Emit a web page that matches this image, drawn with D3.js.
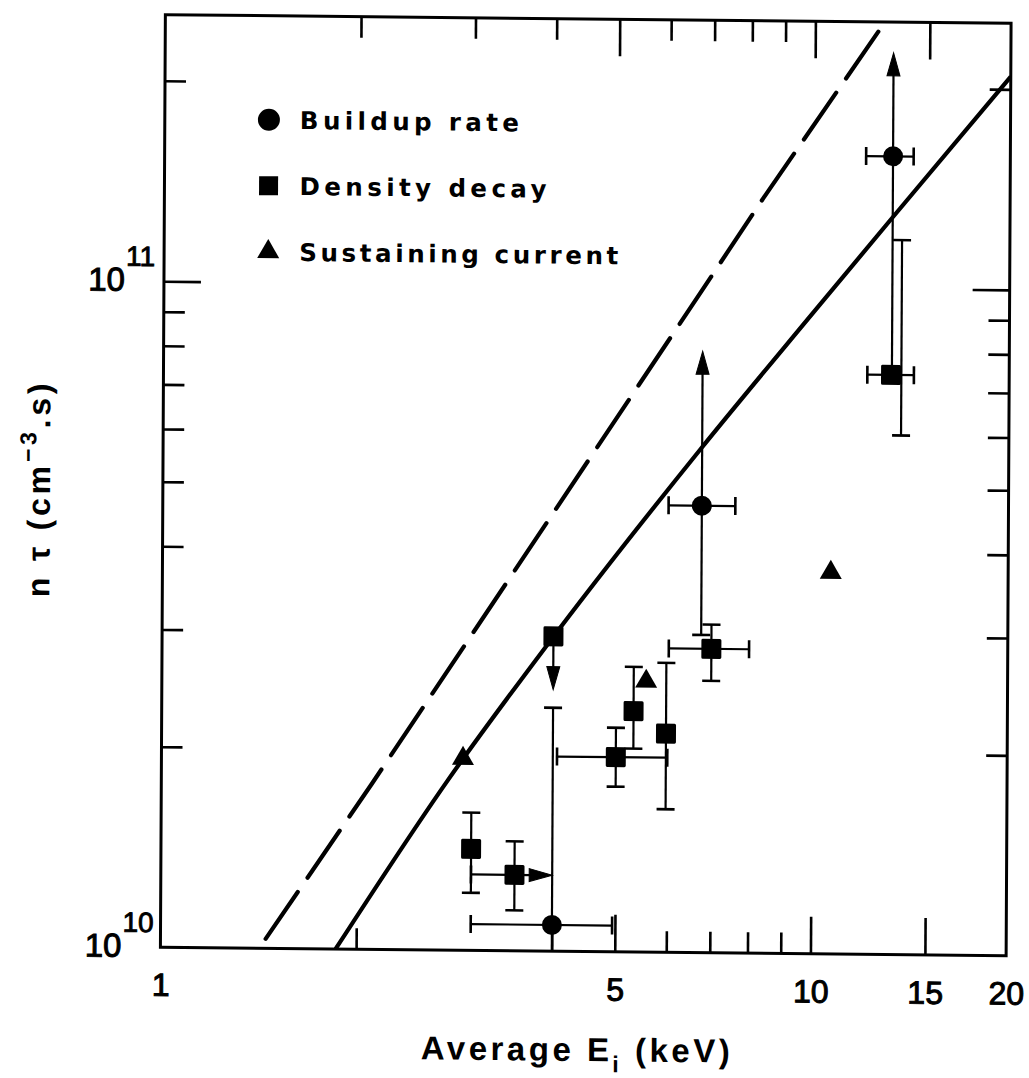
<!DOCTYPE html>
<html>
<head>
<meta charset="utf-8">
<script src="https://cdn.jsdelivr.net/npm/d3@7"></script>
<style>
  html, body { margin: 0; padding: 0; background: #fff; }
  svg { display: block; }
  text { font-family: "Liberation Sans", Arial, Helvetica, sans-serif; fill: #000; }
</style>
</head>
<body>
<svg id="chart" width="1029" height="1078"></svg>
<script>
// n·tau versus average ion energy, log–log, three measurement methods.

// Axis domains and ticks
const xDomain = [1, 20];                  // keV
const yDomain = [1e10, 2.513e11];         // cm^-3 s
const xLabelTicks = [1, 5, 10, 15, 20];
const xMajorTicks = [5, 10, 15];
const xMinorTicksBottom = [2, 4, 6, 7, 8, 9];
const xMinorTicksTop = [2, 3, 4, 6, 7, 8, 9];
const yMajorTicks = [1e11];
const yMinorTicks = [2e10, 3e10, 4e10, 5e10, 6e10, 7e10, 8e10, 9e10, 2e11];
const yLabelExponents = [10, 11];

// Buildup rate (circles); ntUp = lower limit drawn as an upward arrow
const buildupRate = [
  { E: 4.0,  nt: 1.095e10, eLo: 3.0,  eHi: 4.95, ntLo: 0.9e10,  ntHi: 2.32e10 },
  { E: 6.75, nt: 4.69e10,  eLo: 6.0,  eHi: 7.6,  ntLo: 3.0e10,  ntUp: 8.0e10 },
  { E: 13.2, nt: 1.58e11,  eLo: 12.0, eHi: 14.2, ntLo: 7.42e10, ntUp: 2.26e11 }
];

// Density decay (squares); ntDown / eRight = limits drawn as arrows
const densityDecay = [
  { E: 4.0,   nt: 2.97e10, ntDown: 2.47e10 },
  { E: 3.0,   nt: 1.42e10, ntLo: 1.22e10, ntHi: 1.61e10 },
  { E: 3.5,   nt: 1.30e10, ntLo: 1.15e10, ntHi: 1.46e10, eLo: 3.0, eRight: 4.0 },
  { E: 5.0,   nt: 1.96e10, ntLo: 1.77e10, ntHi: 2.17e10, eLo: 4.06, eHi: 6.0 },
  { E: 5.32,  nt: 2.30e10, ntLo: 2.02e10, ntHi: 2.68e10 },
  { E: 5.97,  nt: 2.13e10, ntLo: 1.64e10, ntHi: 2.72e10 },
  { E: 7.0,   nt: 2.86e10, ntLo: 2.56e10, ntHi: 3.11e10, eLo: 6.02, eHi: 8.0 },
  { E: 13.16, nt: 7.42e10, ntLo: 6.02e10, ntHi: 1.183e11, eLo: 12.1, eHi: 14.27, barE: 13.65 }
];

// Sustaining current (triangles)
const sustainingCurrent = [
  { E: 2.91,  nt: 1.94e10 },
  { E: 5.56,  nt: 2.55e10 },
  { E: 10.67, nt: 3.74e10 }
];

// Reference curves [E, n·tau]
const solidCurve = [
  [1.86, 1.0e10], [2.76, 1.80e10], [3.9, 2.87e10], [6.7, 5.69e10],
  [10, 9.2e10], [13.2, 1.28e11], [20, 2.09e11]
];
const dashedCurve = [
  [12.5, 2.43e11], [8.34, 1.36e11], [6.68, 9.77e10], [3.25, 3.36e10],
  [2.107, 1.771e10], [1.419, 1.0e10]
];

const legendItems = ["Buildup rate", "Density decay", "Sustaining current"];

// ---------------------------------------------------------------------------
const svg = d3.select("#chart");
const plot = { left: 162.9, right: 1008.6, top: 19, bottom: 951.5 };

const x = d3.scaleLog().domain(xDomain).range([plot.left, plot.right]);
const y = d3.scaleLog().domain(yDomain).range([plot.bottom, plot.top]);

// the whole figure sits slightly skewed on the page
const g = svg.append("g").attr("transform", "matrix(1,0.0102,-0.0053,1,2.57,-5.98)");

g.append("clipPath").attr("id", "plot-clip")
  .append("rect")
  .attr("x", plot.left).attr("y", plot.top)
  .attr("width", plot.right - plot.left).attr("height", plot.bottom - plot.top);

// ---- frame and ticks
g.append("rect")
  .attr("x", plot.left).attr("y", plot.top)
  .attr("width", plot.right - plot.left).attr("height", plot.bottom - plot.top)
  .attr("fill", "none").attr("stroke", "#000").attr("stroke-width", 3);

const MINOR = 21, MAJOR = 37;
function styleTicks(sel) {
  sel.select(".domain").remove();
  sel.selectAll(".tick line").attr("stroke", "#000").attr("stroke-width", 2.6);
}
const tickAxes = [
  [d3.axisTop(x).tickValues(xMinorTicksBottom).tickSize(MINOR), `translate(0,${plot.bottom})`],
  [d3.axisTop(x).tickValues(xMajorTicks).tickSize(MAJOR), `translate(0,${plot.bottom})`],
  [d3.axisBottom(x).tickValues(xMinorTicksTop).tickSize(MINOR), `translate(0,${plot.top})`],
  [d3.axisBottom(x).tickValues(xMajorTicks).tickSize(MAJOR), `translate(0,${plot.top})`],
  [d3.axisRight(y).tickValues(yMinorTicks).tickSize(MINOR), `translate(${plot.left},0)`],
  [d3.axisRight(y).tickValues(yMajorTicks).tickSize(MAJOR), `translate(${plot.left},0)`],
  [d3.axisLeft(y).tickValues(yMinorTicks).tickSize(MINOR), `translate(${plot.right},0)`],
  [d3.axisLeft(y).tickValues(yMajorTicks).tickSize(MAJOR), `translate(${plot.right},0)`]
];
tickAxes.forEach(([axis, tr]) => {
  g.append("g").attr("transform", tr)
    .call(axis.tickFormat("").tickSizeOuter(0))
    .call(styleTicks);
});

// x tick labels
g.append("g").attr("transform", `translate(0,${plot.bottom})`)
  .call(d3.axisBottom(x).tickValues(xLabelTicks).tickSize(0).tickPadding(26)
    .tickFormat(d3.format("d")))
  .call(sel => {
    sel.select(".domain").remove();
    sel.selectAll("text")
      .attr("font-size", 32).attr("fill", "#000")
      .attr("stroke", "#000").attr("stroke-width", 1);
  });

// y tick labels: 10 with superscript exponent
yLabelExponents.forEach(p => {
  const yy = y(Math.pow(10, p));
  g.append("text")
    .attr("x", plot.left - 39).attr("y", yy + 10)
    .attr("font-size", 33).attr("text-anchor", "end")
    .attr("stroke", "#000").attr("stroke-width", 1)
    .text("10");
  g.append("text")
    .attr("x", plot.left - 38).attr("y", yy - 15)
    .attr("font-size", 28).attr("text-anchor", "start")
    .attr("stroke", "#000").attr("stroke-width", 0.9)
    .text(p);
});

// axis titles
const xt = g.append("text")
  .attr("x", 580).attr("y", 1061)
  .attr("text-anchor", "middle")
  .attr("font-size", 33).attr("font-weight", "bold")
  .attr("letter-spacing", 3.5);
xt.append("tspan").text("Average E");
xt.append("tspan").attr("font-size", 23).attr("dy", 11).text("i");
xt.append("tspan").attr("dy", -11).text(" (keV)");

const yt = g.append("text")
  .attr("transform", "translate(50,494) rotate(-90)")
  .attr("text-anchor", "middle")
  .attr("font-size", 32).attr("font-weight", "bold")
  .attr("letter-spacing", 3.8);
yt.append("tspan").text("n \u03C4 (cm");
yt.append("tspan").attr("font-size", 23).attr("dy", -14).text("\u22123");
yt.append("tspan").attr("dy", 14).text(".s)");

// ---- reference curves
const clipped = g.append("g").attr("clip-path", "url(#plot-clip)");

clipped.append("path")
  .datum(solidCurve)
  .attr("d", d3.line().x(d => x(d[0])).y(d => y(d[1])).curve(d3.curveMonotoneX))
  .attr("fill", "none").attr("stroke", "#000").attr("stroke-width", 4.2);

clipped.append("path")
  .datum(dashedCurve)
  .attr("d", d3.line().x(d => x(d[0])).y(d => y(d[1])))
  .attr("fill", "none").attr("stroke", "#000").attr("stroke-width", 4.2)
  .attr("stroke-dasharray", "57,17.3").attr("stroke-linecap", "round");

// ---- error bars and limit arrows
const bars = clipped.append("g").attr("stroke", "#000").attr("fill", "#000");
const CAP = 9, HEAD_L = 23, HEAD_W = 6.5;

function seg(x1, y1, x2, y2, w) {
  bars.append("line").attr("x1", x1).attr("y1", y1).attr("x2", x2).attr("y2", y2)
    .attr("stroke-width", w);
}
function head(tx, ty, dx, dy) {
  // arrowhead with its tip at (tx,ty) pointing along (dx,dy)
  const bx = tx - dx * HEAD_L, by = ty - dy * HEAD_L;
  const px = -dy * HEAD_W, py = dx * HEAD_W;
  bars.append("path")
    .attr("d", `M${tx},${ty}L${bx + px},${by + py}L${bx - px},${by - py}Z`)
    .attr("stroke-width", 1);
}

function drawBars(d) {
  const cx = x(d.E), cy = y(d.nt);
  const bx = x(d.barE || d.E);
  if (d.ntLo !== undefined || d.ntHi !== undefined) {
    const lo = d.ntLo !== undefined ? d.ntLo : d.nt;
    const hi = d.ntHi !== undefined ? d.ntHi : d.nt;
    if (d.ntUp === undefined) seg(bx, y(lo), bx, y(hi), 2.2);
    if (d.ntLo !== undefined) seg(bx - CAP, y(d.ntLo), bx + CAP, y(d.ntLo), 2.6);
    if (d.ntHi !== undefined) seg(bx - CAP, y(d.ntHi), bx + CAP, y(d.ntHi), 2.6);
  }
  if (d.ntUp !== undefined) {
    const lo = d.ntLo !== undefined ? d.ntLo : d.nt;
    seg(cx, y(lo), cx, y(d.ntUp) + HEAD_L - 2, 2.2);
    head(cx, y(d.ntUp), 0, -1);
  }
  if (d.ntDown !== undefined) {
    seg(cx, cy, cx, y(d.ntDown) - HEAD_L + 2, 2.2);
    head(cx, y(d.ntDown), 0, 1);
  }
  if (d.eLo !== undefined) {
    const right = d.eRight !== undefined ? x(d.eRight) - HEAD_L + 2 : x(d.eHi);
    seg(x(d.eLo), cy, right, cy, 2.2);
    seg(x(d.eLo), cy - CAP, x(d.eLo), cy + CAP, 2.6);
    if (d.eHi !== undefined) seg(x(d.eHi), cy - CAP, x(d.eHi), cy + CAP, 2.6);
    if (d.eRight !== undefined) head(x(d.eRight), cy, 1, 0);
  }
}
buildupRate.forEach(drawBars);
densityDecay.forEach(drawBars);

// ---- markers
const triangle = d3.symbol().type(d3.symbolTriangle).size(210);

clipped.append("g").selectAll("circle").data(buildupRate).join("circle")
  .attr("cx", d => x(d.E)).attr("cy", d => y(d.nt)).attr("r", 10).attr("fill", "#000");

clipped.append("g").selectAll("rect").data(densityDecay).join("rect")
  .attr("x", d => x(d.E) - 10).attr("y", d => y(d.nt) - 10)
  .attr("width", 20).attr("height", 20).attr("rx", 1.5).attr("fill", "#000");

clipped.append("g").selectAll("path").data(sustainingCurrent).join("path")
  .attr("transform", d => `translate(${x(d.E)},${y(d.nt)})`)
  .attr("d", triangle).attr("fill", "#000");

// ---- legend
const legend = g.append("g").attr("transform", "translate(267,123)");
const rowGap = 66;
legend.append("circle").attr("cx", 0).attr("cy", 0).attr("r", 11);
legend.append("rect").attr("x", -9.5).attr("y", rowGap - 9.5).attr("width", 19).attr("height", 19);
legend.append("path").attr("transform", `translate(0,${2 * rowGap})`).attr("d", triangle);
const legendWidths = [219, 247, 319];
legend.selectAll("text").data(legendItems).join("text")
  .attr("x", 31).attr("y", (d, i) => i * rowGap + 9)
  .style("font-family", "'DejaVu Sans', Verdana, sans-serif")
  .attr("font-size", 24.5).attr("font-weight", "bold")
  .attr("textLength", (d, i) => legendWidths[i])
  .attr("lengthAdjust", "spacing")
  .text(d => d);
</script>
</body>
</html>
